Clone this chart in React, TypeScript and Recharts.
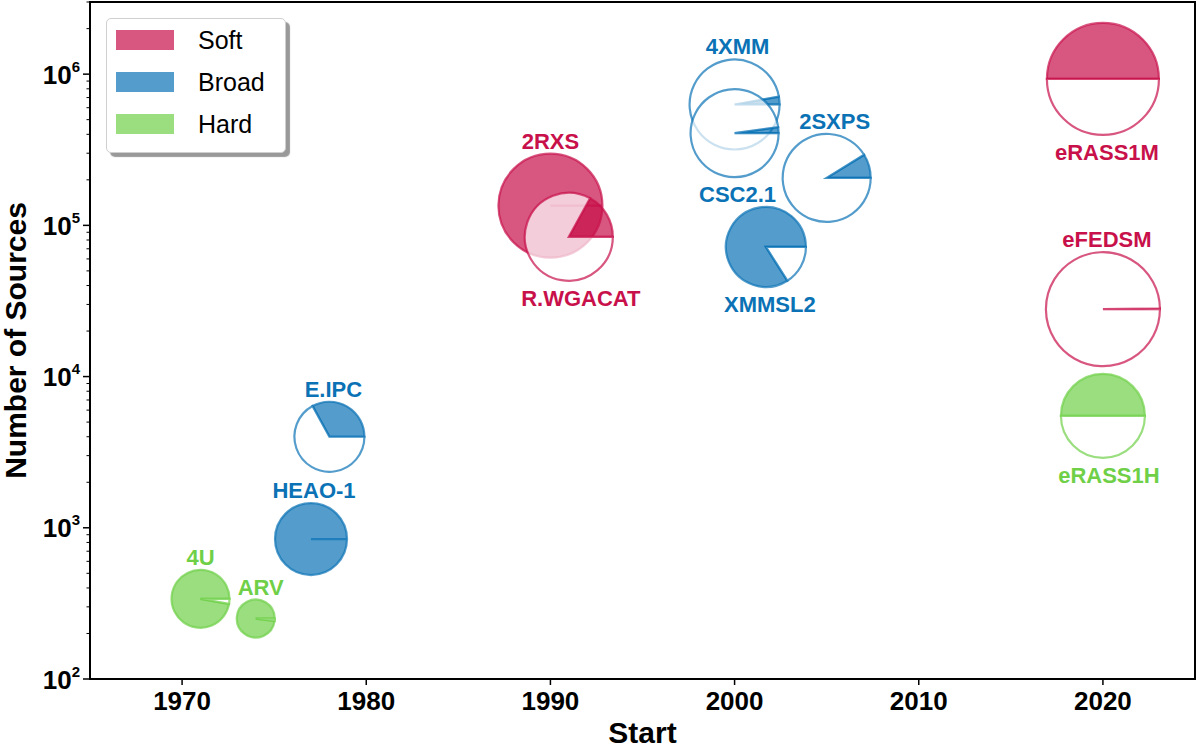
import React from "react";
import { ScatterChart, Scatter, XAxis, YAxis, ReferenceArea, Legend } from "recharts";

// catalogue values
const catalogues = ["4U", "ARV", "HEAO-1", "E.IPC", "2RXS", "R.WGACAT", "4XMM", "CSC2.1", "XMMSL2", "2SXPS", "eRASS1M", "eFEDSM", "eRASS1H"];
const startYear = [1971, 1974, 1977, 1978, 1990, 1991, 2000, 2000, 2001.7, 2005, 2020, 2020, 2020];
const numSources = [339, 251, 842, 4000, 135000, 84000, 630000, 407000, 72000, 206000, 930000, 27900, 5500];
const skyFraction = [0.972, 0.98, 1, 0.33, 1, 0.17, 0.028, 0.022, 0.84, 0.088, 0.5, 0.002, 0.5];
const bands = ["Hard", "Hard", "Broad", "Broad", "Soft", "Soft", "Broad", "Broad", "Broad", "Broad", "Soft", "Soft", "Hard"];

const legendBands = ["Soft", "Broad", "Hard"];
const xTicks = [1970, 1980, 1990, 2000, 2010, 2020];
const yMajorTicks = [1e2, 1e3, 1e4, 1e5, 1e6];
const yMinorSteps = [2, 3, 4, 5, 6, 7, 8, 9];

// marker styling (pixels)
const markerRadius = [29, 19, 36, 35, 52, 44, 45, 44, 40, 44, 56, 57, 42];
const labelSide = ["up", "up", "up", "up", "up", "down", "up", "down", "down", "up", "down", "up", "down"];
const labelShift = [0, 5, 3, 4, 0, 12, 3, 3, 4, 8, 4, 4, 6];

const bandColor: Record<string, string> = { Soft: "#c8104a", Broad: "#0a72b5", Hard: "#6fd048" };
const ALPHA = 0.7;
const FONT = '"Liberation Sans", Arial, Helvetica, sans-serif';

const points = catalogues.map((name, i) => ({
  name,
  year: startYear[i],
  sources: numSources[i],
  fraction: skyFraction[i],
  band: bands[i],
  idx: i,
}));

const yTicks = [
  ...yMajorTicks,
  ...yMajorTicks.flatMap((m) => yMinorSteps.map((s) => s * m)).filter((v) => v <= 3e6),
];

function wedge(cx: number, cy: number, r: number, a0: number, a1: number) {
  const pt = (a: number) => {
    const t = (a * Math.PI) / 180;
    return `${cx + r * Math.cos(t)} ${cy - r * Math.sin(t)}`;
  };
  if (a1 - a0 >= 359.999) {
    return `M ${cx} ${cy} L ${cx + r} ${cy} A ${r} ${r} 0 1 0 ${cx - r} ${cy} A ${r} ${r} 0 1 0 ${cx + r} ${cy} Z`;
  }
  const large = a1 - a0 > 180 ? 1 : 0;
  return `M ${cx} ${cy} L ${pt(a0)} A ${r} ${r} 0 ${large} 0 ${pt(a1)} Z`;
}

function PieMarker(props: any) {
  const { cx, cy, payload } = props;
  if (cx == null || cy == null) return null;
  const i = payload.idx;
  const r = markerRadius[i];
  const color = bandColor[payload.band];
  const split = 360 * payload.fraction;
  const up = labelSide[i] === "up";
  return (
    <g>
      <path d={wedge(cx, cy, r, 0, split)} fill={color} fillOpacity={ALPHA} stroke={color} strokeOpacity={ALPHA} strokeWidth={2.2} />
      {split < 360 && (
        <path d={wedge(cx, cy, r, split, 360)} fill="#fff" fillOpacity={ALPHA} stroke={color} strokeOpacity={ALPHA} strokeWidth={2.2} />
      )}
      <text
        x={cx + labelShift[i]}
        y={up ? cy - r - 5 : cy + r + 25}
        textAnchor="middle"
        fill={color}
        fontSize={22}
        fontWeight="bold"
        fontFamily={FONT}
      >
        {payload.name}
      </text>
    </g>
  );
}

function YTick({ x, y, payload }: any) {
  const v = payload.value;
  const exp = Math.round(Math.log10(v));
  const major = Math.abs(Math.log10(v) - exp) < 1e-6;
  return (
    <g>
      <line x1={x} x2={x - (major ? 7 : 3.5)} y1={y} y2={y} stroke="#000" strokeWidth={major ? 1.5 : 1} />
      {major && (
        <text x={x - 10} y={y + 9.5} textAnchor="end" fontSize={26} fontWeight="bold" fontFamily={FONT} fill="#000">
          10
          <tspan dy={-12} fontSize={15}>
            {exp}
          </tspan>
        </text>
      )}
    </g>
  );
}

function LegendBox() {
  return (
    <div
      style={{
        width: 180,
        height: 135,
        boxSizing: "border-box",
        background: "#fff",
        border: "1px solid #cfcfcf",
        borderRadius: 5,
        boxShadow: "4px 4px 1px rgba(0,0,0,0.4)",
        position: "relative",
        fontFamily: FONT,
      }}
    >
      {legendBands.map((b, k) => (
        <div key={b} style={{ position: "absolute", left: 9, top: 10 + k * 42, height: 22, display: "flex", alignItems: "center" }}>
          <div style={{ width: 58, height: 20, background: bandColor[b], opacity: ALPHA }} />
          <span style={{ marginLeft: 24, fontSize: 25, color: "#000", lineHeight: "22px" }}>{b}</span>
        </div>
      ))}
    </div>
  );
}

export default function App() {
  return (
    <div style={{ width: 1200, height: 749, background: "#fff" }}>
      <style>{"body{margin:0}"}</style>
      <ScatterChart width={1200} height={749} margin={{ top: 2, right: 5, bottom: 0, left: 30 }}>
        <XAxis
          dataKey="year"
          type="number"
          domain={[1965, 2025]}
          ticks={xTicks}
          interval={0}
          height={70}
          axisLine={false}
          tickSize={6}
          tickMargin={7}
          tickLine={{ stroke: "#000", strokeWidth: 1.5 }}
          tick={{ fill: "#000", fontSize: 26, fontWeight: "bold", fontFamily: FONT }}
          label={{
            content: () => (
              <text x={642.5} y={743} textAnchor="middle" fontSize={30} fontWeight="bold" fontFamily={FONT} fill="#000">
                Start
              </text>
            ),
          }}
        />
        <YAxis
          dataKey="sources"
          type="number"
          scale="log"
          domain={[100, 3000000]}
          allowDataOverflow
          ticks={yTicks}
          interval={0}
          width={60}
          axisLine={false}
          tickLine={false}
          tickSize={0}
          tickMargin={0}
          tick={<YTick />}
          label={{
            content: () => (
              <text
                x={26}
                y={340.5}
                transform="rotate(-90 26 340.5)"
                textAnchor="middle"
                fontSize={30}
                fontWeight="bold"
                fontFamily={FONT}
                fill="#000"
              >
                Number of Sources
              </text>
            ),
          }}
        />
        <ReferenceArea x1={1965} x2={2025} y1={100} y2={3000000} fill="none" stroke="#000" strokeWidth={2} ifOverflow="visible" />
        <Scatter data={points} shape={<PieMarker />} isAnimationActive={false} />
        <Legend
          layout="vertical"
          align="center"
          verticalAlign="middle"
          wrapperStyle={{ left: 106, top: 18, width: 182, height: 137 }}
          content={() => <LegendBox />}
        />
      </ScatterChart>
    </div>
  );
}
